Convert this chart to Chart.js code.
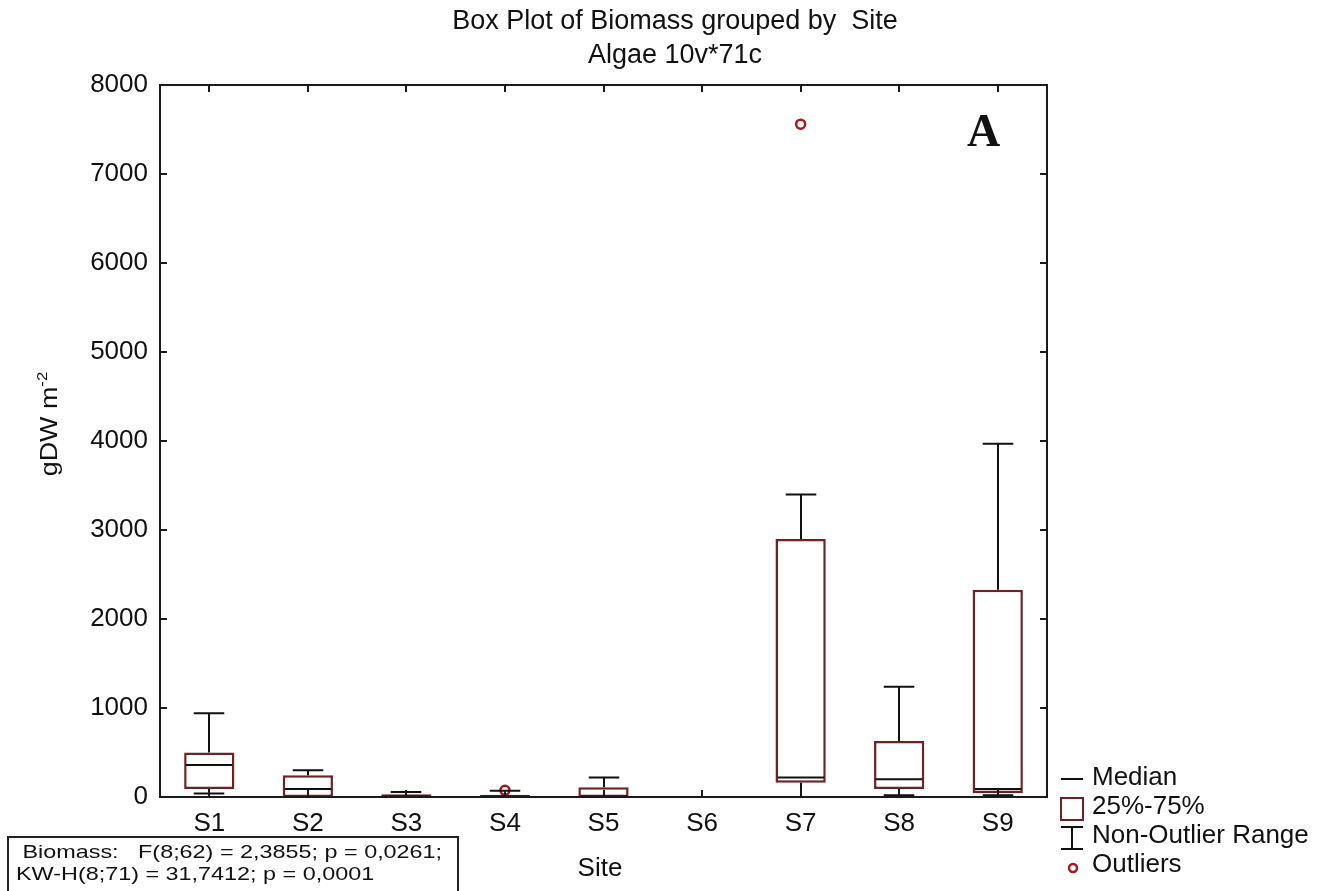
<!DOCTYPE html>
<html>
<head>
<meta charset="utf-8">
<script src="https://cdn.jsdelivr.net/npm/chart.js"></script>
<style>
  body { margin: 0; background: #fff; }
  #wrap { position: relative; width: 1336px; height: 891px; overflow: hidden;
          font-family: "Liberation Sans", Arial, sans-serif; color: #111; background:#fff; }
  #c { position: absolute; left: 0; top: 0; }
  .t { position: absolute; white-space: pre; }
</style>
</head>
<body>
<div id="wrap">
  <canvas id="c" width="1336" height="891"></canvas>

  <div class="t" style="left:0; width:1350px; top:3px; text-align:center; font-size:27px; line-height:34px;">Box Plot of Biomass grouped by  Site
Algae 10v*71c</div>

  <div class="t" style="left:-51px; top:409px; width:200px; height:30px; line-height:30px; text-align:center; font-size:24px; transform: rotate(-90deg) scaleX(1.12);">gDW m<sup style="font-size:15px; vertical-align: 10px; line-height:0;">-2</sup></div>

  <div class="t" style="left:500px; width:200px; top:852px; text-align:center; font-size:26px; line-height:31px;">Site</div>

  <div class="t" style="left:967px; top:106px; font-family:'Liberation Serif','Times New Roman',serif; font-weight:bold; font-size:46px; line-height:50px;">A</div>

  <div style="position:absolute; left:7px; top:836px; width:448px; height:70px; border:2px solid #222;"></div>
  <div class="t" style="left:16px; top:841px; font-size:19px; line-height:22px; transform-origin:0 0; transform:scaleX(1.23);"> Biomass:   F(8;62) = 2,3855; p = 0,0261;
KW-H(8;71) = 31,7412; p = 0,0001</div>

  <svg style="position:absolute; left:1055px; top:765px;" width="36" height="115">
    <line x1="6" y1="14" x2="28" y2="14" stroke="#111" stroke-width="2"/>
    <rect x="6" y="33" width="22" height="22" fill="none" stroke="#6e2224" stroke-width="2"/>
    <line x1="6" y1="62" x2="28" y2="62" stroke="#111" stroke-width="2"/>
    <line x1="17" y1="62" x2="17" y2="84" stroke="#111" stroke-width="2"/>
    <line x1="6" y1="84" x2="28" y2="84" stroke="#111" stroke-width="2"/>
    <circle cx="18" cy="103" r="4" fill="#fff" stroke="#a3191d" stroke-width="2.5"/>
  </svg>
  <div class="t" style="left:1092px; top:762px; font-size:26px; line-height:29px;">Median
25%-75%
Non-Outlier Range
Outliers</div>
</div>

<script>
// ---- Data ----
const sites      = ['S1', 'S2', 'S3', 'S4', 'S5', 'S6', 'S7', 'S8', 'S9'];
const minVals    = [40,   0,    0,    0,    0,    null, 0,    20,   20];
const q1Vals     = [90,   0,    0,    0,    0,    null, 160,  90,   45];
const medianVals = [360,  90,   5,    5,    5,    null, 220,  200,  90];
const q3Vals     = [500,  245,  30,   25,   110,  null, 2900, 630,  2330];
const maxVals    = [940,  300,  55,   70,   220,  null, 3400, 1240, 3970];
const outliers   = [null, null, null, 75,   null, null, 7560, null, null];
const yMin = 0, yMax = 8000, yStep = 1000;

// ---- Styles ----
const BOX_COLOR = '#6e2224';
const OUTLIER_COLOR = '#a3191d';
const LINE_COLOR = '#111';
const BOX_FRAC = 0.51;
const CAP_FRAC = 0.31;
const TICK_LEN = 7;

const boxParts = {
  id: 'boxParts',
  afterDatasetDraw(chart, args) {
    if (args.index !== 0) return;
    const { ctx, scales: { x, y } } = chart;
    const catW = x.getPixelForValue(1) - x.getPixelForValue(0);
    ctx.save();
    ctx.strokeStyle = LINE_COLOR;
    ctx.lineWidth = 2;
    sites.forEach((s, i) => {
      if (medianVals[i] == null) return;
      const cx = Math.round(x.getPixelForValue(i));
      const capH = catW * CAP_FRAC / 2;
      const boxH = catW * BOX_FRAC / 2 - 2;
      const yq1 = y.getPixelForValue(q1Vals[i]);
      const yq3 = y.getPixelForValue(q3Vals[i]);
      const ymin = y.getPixelForValue(minVals[i]);
      const ymax = y.getPixelForValue(maxVals[i]);
      const ymed = y.getPixelForValue(medianVals[i]);
      ctx.beginPath();
      ctx.moveTo(cx, yq3); ctx.lineTo(cx, ymax);
      ctx.moveTo(cx - capH, ymax); ctx.lineTo(cx + capH, ymax);
      if (minVals[i] < q1Vals[i]) {
        ctx.moveTo(cx, yq1); ctx.lineTo(cx, ymin);
        ctx.moveTo(cx - capH, ymin); ctx.lineTo(cx + capH, ymin);
      }
      ctx.moveTo(cx - boxH, ymed); ctx.lineTo(cx + boxH, ymed);
      ctx.stroke();
    });
    ctx.restore();
  }
};

const frame = {
  id: 'frame',
  afterDraw(chart) {
    const { ctx, chartArea: a, scales: { x, y } } = chart;
    ctx.save();
    ctx.strokeStyle = '#1a1a1a';
    ctx.lineWidth = 2;
    ctx.beginPath();
    ctx.rect(a.left, a.top, a.right - a.left, a.bottom - a.top);
    y.ticks.forEach(t => {
      const py = Math.round(y.getPixelForValue(t.value));
      ctx.moveTo(a.left, py); ctx.lineTo(a.left + TICK_LEN, py);
      ctx.moveTo(a.right, py); ctx.lineTo(a.right - TICK_LEN, py);
    });
    sites.forEach((s, i) => {
      const px = Math.round(x.getPixelForValue(i));
      ctx.moveTo(px, a.bottom); ctx.lineTo(px, a.bottom - TICK_LEN);
      ctx.moveTo(px, a.top); ctx.lineTo(px, a.top + TICK_LEN);
    });
    ctx.stroke();
    ctx.restore();
  }
};

new Chart(document.getElementById('c'), {
  data: {
    labels: sites,
    datasets: [
      {
        type: 'bar',
        label: '25%-75%',
        data: sites.map((s, i) => q1Vals[i] == null ? null : [q1Vals[i], q3Vals[i]]),
        backgroundColor: '#ffffff',
        borderColor: BOX_COLOR,
        borderWidth: 2.5,
        borderSkipped: false,
        barPercentage: BOX_FRAC,
        categoryPercentage: 1,
        grouped: false
      },
      {
        type: 'line',
        label: 'Outliers',
        data: outliers,
        showLine: false,
        pointStyle: 'circle',
        pointRadius: 4.5,
        pointBorderWidth: 2.5,
        pointBorderColor: OUTLIER_COLOR,
        pointBackgroundColor: '#ffffff'
      }
    ]
  },
  options: {
    responsive: false,
    animation: false,
    devicePixelRatio: 1,
    layout: { autoPadding: false, padding: { left: 0, top: 85, right: 289, bottom: 0 } },
    plugins: { legend: { display: false }, tooltip: { enabled: false }, title: { display: false } },
    scales: {
      x: {
        type: 'category',
        offset: true,
        grid: { display: false, drawTicks: false },
        border: { display: false },
        ticks: { color: '#111', font: { family: '"Liberation Sans", Arial, sans-serif', size: 26 }, padding: 11, maxRotation: 0 },
        afterFit(s) { s.height = 94; }
      },
      y: {
        min: yMin, max: yMax,
        grid: { display: false, drawTicks: false },
        border: { display: false },
        ticks: { stepSize: yStep, color: '#111', font: { family: '"Liberation Sans", Arial, sans-serif', size: 26 }, padding: 12,
                 callback: v => String(v) },
        afterFit(s) { s.width = 160; }
      }
    }
  },
  plugins: [boxParts, frame]
});
</script>
</body>
</html>
